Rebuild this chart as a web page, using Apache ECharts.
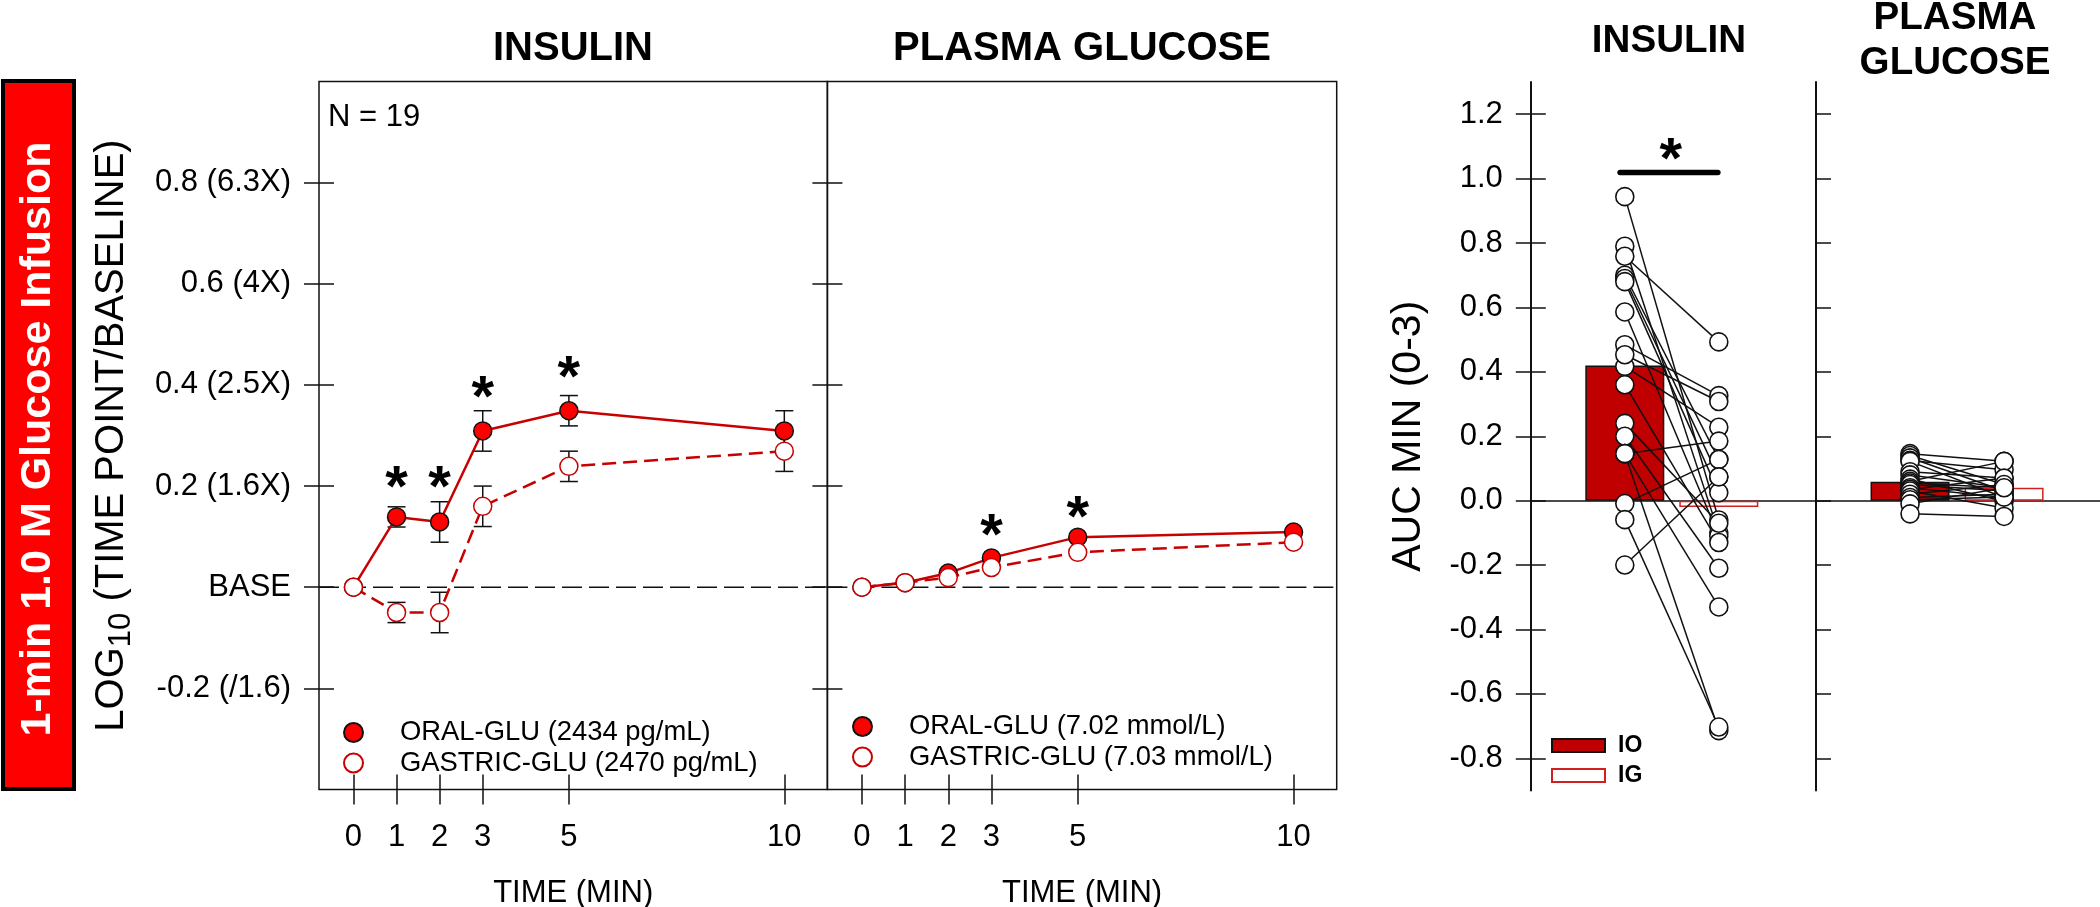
<!DOCTYPE html>
<html><head><meta charset="utf-8">
<style>html,body{margin:0;padding:0;background:#fff}#c{width:2100px;height:907px}</style>
<script src="https://cdn.jsdelivr.net/npm/echarts@6/dist/echarts.min.js"></script>
</head><body><div id="c"></div>
<script>
const timeTicks = [0,1,2,3,5,10];
const leftYTicks = [-0.2,0,0.2,0.4,0.6,0.8];
const leftYLabels = ['-0.2 (/1.6)','BASE','0.2 (1.6X)','0.4 (2.5X)','0.6 (4X)','0.8 (6.3X)'];
const aucTicks = [-0.8,-0.6,-0.4,-0.2,0,0.2,0.4,0.6,0.8,1.0,1.2];

const insulinOral = [0,0.139,0.129,0.309,0.349,0.309];
const insulinOralSE = [0,0.02,0.04,0.04,0.03,0.04];
const insulinGastric = [0,-0.05,-0.05,0.16,0.239,0.269];
const insulinGastricSE = [0,0.02,0.04,0.04,0.03,0.04];
const glucoseOral = [0,0.009,0.028,0.058,0.099,0.109];
const glucoseGastric = [0,0.009,0.019,0.039,0.069,0.089];

const insulinStarT = [1,2,3,5];
const insulinStarV = [0.215,0.215,0.394,0.433];
const glucoseStarT = [3,5];
const glucoseStarV = [0.122,0.156];

const insulinIO = [0.944,0.79,0.759,0.70,0.69,0.68,0.586,0.484,0.417,0.453,0.36,0.24,0.20,0.146,0.146,0.146,-0.009,-0.059,-0.20];
const insulinIG = [-0.06,-0.10,0.493,0.128,0.074,0.025,-0.11,0.326,0.228,0.308,-0.13,-0.07,-0.21,0.185,-0.33,-0.714,0.128,-0.703,0.074];
const glucoseIO = [0.146,0.14,0.133,0.125,0.122,0.09,0.08,0.067,0.06,0.055,0.05,0.04,0.035,0.03,0.02,0.01,0.003,-0.01,-0.041];
const glucoseIG = [0.122,0.05,0.03,0.096,0.01,0.07,0.04,-0.002,0.122,0.04,0.03,0.01,0.07,-0.023,0.05,0.02,0.011,0.04,-0.049];
const meanInsulinAUC = [0.42,-0.02];
const meanGlucoseAUC = [0.059,0.04];
const sigBarX = [0.95,1.99];
const sigBarV = 1.019;
const sigStar = [1.49,1.089];

const FONT='"Liberation Sans",Arial,sans-serif';
const RED='#c80000', DARK='#c00000';
const labelMap={}; leftYTicks.forEach((v,i)=>labelMap[v.toFixed(1)]=leftYLabels[i]);
const hiddenLine={show:false,onZero:false};

function xAx(gi,min,max,opt){return Object.assign({type:'value',gridIndex:gi,min,max,position:'bottom',splitLine:{show:false},axisLine:hiddenLine,axisTick:{show:false},axisLabel:{show:false}},opt||{});}
function yAx(gi,min,max,opt){return Object.assign({type:'value',gridIndex:gi,min,max,position:'left',splitLine:{show:false},axisLine:hiddenLine,axisTick:{show:false},axisLabel:{show:false}},opt||{});}
const tick=(vals,inside)=>({show:true,inside,length:15,customValues:vals,lineStyle:{color:'#111',width:1.5}});
const line2={show:true,onZero:false,lineStyle:{color:'#111',width:2}};
const tlabel={show:true,customValues:timeTicks,fontFamily:FONT,fontSize:31,color:'#000',margin:32};

const xAxes=[
 xAx(0,-0.8,11,{axisTick:tick(timeTicks,false),axisLabel:tlabel,name:'TIME (MIN)',nameLocation:'middle',nameGap:88,nameTextStyle:{fontFamily:FONT,fontSize:31,color:'#000'}}),
 xAx(0,-0.8,11,{axisTick:tick(timeTicks,true)}),
 xAx(1,-0.8,11,{axisTick:tick(timeTicks,false),axisLabel:tlabel,name:'TIME (MIN)',nameLocation:'middle',nameGap:88,nameTextStyle:{fontFamily:FONT,fontSize:31,color:'#000'}}),
 xAx(1,-0.8,11,{axisTick:tick(timeTicks,true)}),
 xAx(2,0,3.034,{axisLine:{show:true,onZero:true,lineStyle:{color:'#111',width:1.5}}}),
 xAx(3,0,3.02,{axisLine:{show:true,onZero:true,lineStyle:{color:'#111',width:1.5}}})
];
const yAxes=[
 yAx(0,-0.4,1.0,{axisTick:tick(leftYTicks,false),axisLabel:{show:true,customValues:leftYTicks,formatter:v=>labelMap[v.toFixed(1)],fontFamily:FONT,fontSize:31,color:'#000',margin:28},
   name:'LOG{s|10} (TIME POINT/BASELINE)',nameLocation:'middle',nameRotate:90,nameGap:182,nameTextStyle:{fontFamily:FONT,fontSize:40,color:'#000',rich:{s:{fontFamily:FONT,fontSize:31,color:'#000',padding:[20,0,0,0]}}}}),
 yAx(0,-0.4,1.0,{axisTick:tick(leftYTicks,true)}),
 yAx(1,-0.4,1.0,{axisTick:tick(leftYTicks,false)}),
 yAx(1,-0.4,1.0,{axisTick:tick(leftYTicks,true)}),
 yAx(2,-0.9,1.3,{axisLine:line2,axisTick:tick(aucTicks,false),axisLabel:{show:true,customValues:aucTicks,formatter:v=>v.toFixed(1),fontFamily:FONT,fontSize:31,color:'#000',margin:28},
   name:'AUC MIN (0-3)',nameLocation:'middle',nameRotate:90,nameGap:102,nameTextStyle:{fontFamily:FONT,fontSize:41,color:'#000'}}),
 yAx(2,-0.9,1.3,{axisTick:tick(aucTicks,true)}),
 yAx(3,-0.9,1.3,{axisLine:line2,axisTick:tick(aucTicks,true)})
];

function baseline(xi,yi){return {type:'line',xAxisIndex:xi,yAxisIndex:yi,data:[[-0.8,0],[11,0]],showSymbol:false,symbol:'none',silent:true,z:1,
  lineStyle:{color:'#111',width:1.5,type:[20,7]}};}
function errs(name,xi,yi,mean,se){return {type:'custom',name,xAxisIndex:xi,yAxisIndex:yi,z:2,
  data:timeTicks.map((t,i)=>[t,mean[i]-se[i],mean[i]+se[i]]).filter(d=>d[1]!==d[2]),
  renderItem:(p,api)=>{const a=api.coord([api.value(0),api.value(1)]),b=api.coord([api.value(0),api.value(2)]);
    const st={stroke:'#111',lineWidth:1.5,fill:null};
    return {type:'group',children:[
      {type:'line',shape:{x1:a[0],y1:a[1],x2:b[0],y2:b[1]},style:st},
      {type:'line',shape:{x1:a[0]-9,y1:a[1],x2:a[0]+9,y2:a[1]},style:st},
      {type:'line',shape:{x1:b[0]-9,y1:b[1],x2:b[0]+9,y2:b[1]},style:st}]};}};}
function curve(name,xi,yi,vals,oral){return {type:'line',name,xAxisIndex:xi,yAxisIndex:yi,z:3,data:timeTicks.map((t,i)=>[t,vals[i]]),symbol:'circle',symbolSize:18,
  lineStyle:{color:RED,width:2.5,type:oral?'solid':[14,7]},
  itemStyle:oral?{color:'#ff0000',borderColor:'#111',borderWidth:1.5}:{color:'#fff',borderColor:RED,borderWidth:1.5}};}
function stars(xi,yi,ts,vs){return {type:'scatter',xAxisIndex:xi,yAxisIndex:yi,z:4,symbolSize:1,itemStyle:{color:'#000',opacity:0},data:ts.map((t,i)=>[t,vs[i]]),
  label:{show:true,position:'inside',formatter:'*',fontFamily:FONT,fontWeight:'bold',fontSize:58,color:'#000',opacity:1,offset:[0,12]}};}
function pairs(xi,yi,a,b){
  const out=a.map((v,i)=>({type:'line',xAxisIndex:xi,yAxisIndex:yi,z:3,data:[[1,v],[2,b[i]]],showSymbol:false,symbol:'none',lineStyle:{color:'#111',width:1.5}}));
  const dot={symbolSize:18,itemStyle:{color:'#fff',borderColor:'#111',borderWidth:1.6,opacity:1}};
  out.push(Object.assign({type:'scatter',xAxisIndex:xi,yAxisIndex:yi,z:4,data:a.map(v=>[1,v])},dot));
  out.push(Object.assign({type:'scatter',xAxisIndex:xi,yAxisIndex:yi,z:4,data:b.map(v=>[2,v])},dot));
  return out;}
function bars(xi,yi,m,n1,n2){const base={type:'bar',xAxisIndex:xi,yAxisIndex:yi,barWidth:79,barGap:'-100%',z:2};
  return [Object.assign({},base,{name:n1,data:[[1,m[0]]],itemStyle:{color:DARK,borderColor:'#111',borderWidth:1.5}}),
          Object.assign({},base,{name:n2,data:[[2,m[1]]],itemStyle:{color:'#fff',borderColor:'#d02020',borderWidth:1.5}})];}

const N=['ORAL-GLU (2434 pg/mL)','GASTRIC-GLU (2470 pg/mL)','ORAL-GLU (7.02 mmol/L)','GASTRIC-GLU (7.03 mmol/L)'];
function lg(names,left,top){return {show:true,orient:'vertical',left,top,data:names,icon:'circle',itemWidth:19,itemHeight:19,itemGap:3.5,padding:0,selectedMode:false,
  textStyle:{fontFamily:FONT,fontSize:27.4,color:'#000',padding:[0,0,0,32]}};}
function ttl(text,x,top,fs){return {text,left:x,top,textAlign:'center',padding:0,textStyle:{fontFamily:FONT,fontWeight:'bold',fontSize:fs,color:'#000',lineHeight:45}};}
const G={outerBoundsMode:'none',containLabel:false};

const option={
 animation:false,backgroundColor:'#fff',
 title:[ttl('INSULIN',573,26,40),ttl('PLASMA GLUCOSE',1082,26,40),ttl('INSULIN',1669,19,38.6),ttl('PLASMA\nGLUCOSE',1955,-4,38.6)],
 grid:[
  Object.assign({left:319,top:81.5,width:508.4,height:708,show:true,borderColor:'#111',borderWidth:1.5,backgroundColor:'transparent'},G),
  Object.assign({left:827.4,top:81.5,width:509.3,height:708,show:true,borderColor:'#111',borderWidth:1.5,backgroundColor:'transparent'},G),
  Object.assign({left:1530.8,top:82,width:285.2,height:708.5},G),
  Object.assign({left:1816,top:82,width:284,height:708.5},G)],
 xAxis:xAxes,yAxis:yAxes,
 legend:[lg(N.slice(0,2),343,719),lg(N.slice(2),852,713),
  {show:true,orient:'vertical',left:1551,top:734,data:['IO','IG'],icon:'rect',itemWidth:53,itemHeight:13,itemGap:7,padding:0,selectedMode:false,
   textStyle:{fontFamily:FONT,fontWeight:'bold',fontSize:23,color:'#000',padding:[0,0,0,8]}}],
 graphic:[
  {type:'rect',shape:{x:3,y:81,width:71,height:708},style:{fill:'#ff0000',stroke:'#000',lineWidth:4}},
  {type:'text',x:38,y:439,rotation:Math.PI/2,style:{text:'1-min 1.0 M Glucose Infusion',fontFamily:FONT,fontWeight:'bold',fontSize:43,fill:'#fff',align:'center',verticalAlign:'middle'}},
  {type:'text',x:328,y:117,style:{text:'N = 19',fontFamily:FONT,fontSize:31,fill:'#000',align:'left',verticalAlign:'middle'}}
 ],
 series:[
  baseline(0,0),baseline(2,2),
  errs('e1',0,0,insulinOral,insulinOralSE),errs('e2',0,0,insulinGastric,insulinGastricSE),
  curve(N[0],0,0,insulinOral,true),curve(N[1],0,0,insulinGastric,false),
  curve(N[2],2,2,glucoseOral,true),curve(N[3],2,2,glucoseGastric,false),
  stars(0,0,insulinStarT,insulinStarV),stars(2,2,glucoseStarT,glucoseStarV),
  ...bars(4,4,meanInsulinAUC,'IO','IG'),
  ...bars(5,6,meanGlucoseAUC,'IO ','IG '),
  ...pairs(4,4,insulinIO,insulinIG),
  ...pairs(5,6,glucoseIO,glucoseIG),
  {type:'line',xAxisIndex:4,yAxisIndex:4,z:5,data:sigBarX.map(x=>[x,sigBarV]),showSymbol:false,symbol:'none',lineStyle:{color:'#000',width:5.5,cap:'round'}},
  stars(4,4,[sigStar[0]],[sigStar[1]])
 ]
};
echarts.init(document.getElementById('c'),null,{renderer:'canvas'}).setOption(option);
</script></body></html>
